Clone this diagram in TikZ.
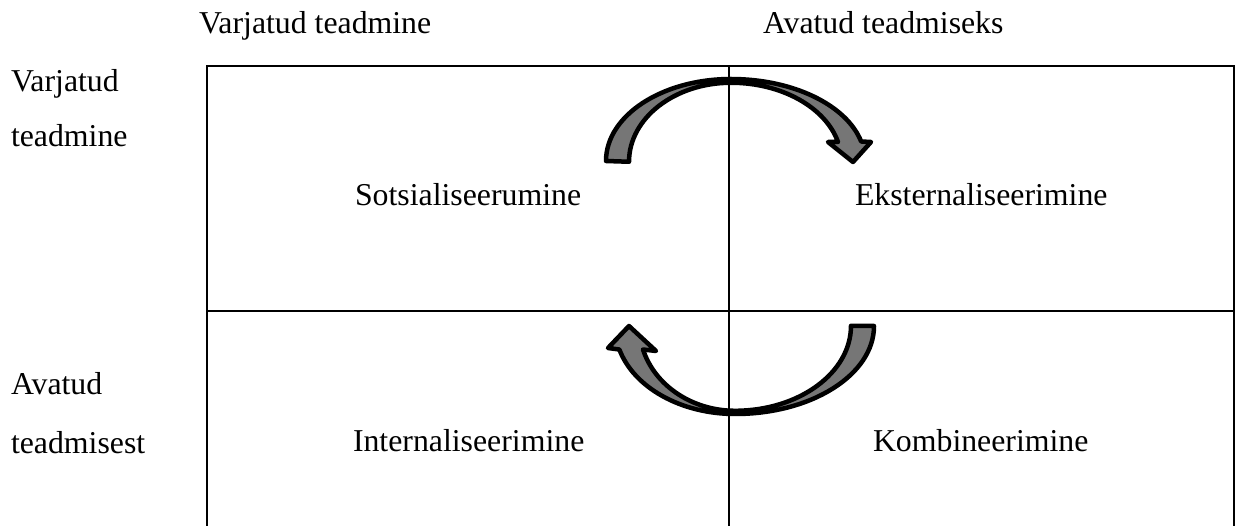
\documentclass[tikz,border=0pt]{standalone}
\usepackage{fontspec}
\setmainfont{Liberation Serif}
\begin{document}
\begin{tikzpicture}[x=1pt,y=1pt,
  gridline/.style={line width=2pt,draw=black},
  txt/.style={anchor=base west,inner sep=0pt,outer sep=0pt,font=\fontsize{31.8}{38}\selectfont},
  curvedarrow/.style={draw=black,line width=4.5pt,line join=round,fill={rgb,255:red,118;green,118;blue,118}}]
\useasboundingbox (0,0) rectangle (1235,-526);

% table frame (open at the bottom)
\draw[gridline] (207,-526) -- (207,-66) -- (1233.5,-66) -- (1233.5,-526);
\draw[gridline] (729,-66) -- (729,-526);
\draw[gridline] (207,-311) -- (1233.5,-311);

% column headings
\node[txt] (colA) at (199,-34) {Varjatud teadmine};
\node[txt] (colB) at (763,-34) {Avatud teadmiseks};

% row headings
\node[txt] (rowA1) at (11,-92) {Varjatud};
\node[txt] (rowA2) at (11,-147) {teadmine};
\node[txt] (rowB1) at (11,-395) {Avatud};
\node[txt] (rowB2) at (11,-454) {teadmisest};

% cell texts
\node[txt] (soc) at (355,-206) {Sotsialiseerumine};
\node[txt] (ext) at (855,-206) {Eksternaliseerimine};
\node[txt] (int) at (353,-452) {Internaliseerimine};
\node[txt] (kom) at (873,-452) {Kombineerimine};

% upper curved arrow (left to right)
\draw[curvedarrow] (606,-161)
  arc[start angle=180,end angle=90,x radius=125pt,y radius=82pt]
  arc[start angle=90,end angle=13.77,x radius=134pt,y radius=82pt]
  -- (871,-142) -- (853,-162) -- (828,-142) -- (838,-142)
  arc[start angle=14.48,end angle=90,x radius=110.5pt,y radius=79pt]
  arc[start angle=90,end angle=180,x radius=102pt,y radius=79pt]
  -- cycle;

% lower curved arrow (right to left)
\draw[curvedarrow] (874,-326)
  arc[start angle=0,end angle=-90,x radius=139pt,y radius=88pt]
  arc[start angle=-90,end angle=-164.5,x radius=120pt,y radius=88pt]
  -- (608,-348) -- (629,-326) -- (656,-351) -- (643,-349.5)
  arc[start angle=-163.8,end angle=-90,x radius=95.8pt,y radius=85pt]
  arc[start angle=-90,end angle=0,x radius=116pt,y radius=85pt]
  -- cycle;
\end{tikzpicture}
\end{document}
